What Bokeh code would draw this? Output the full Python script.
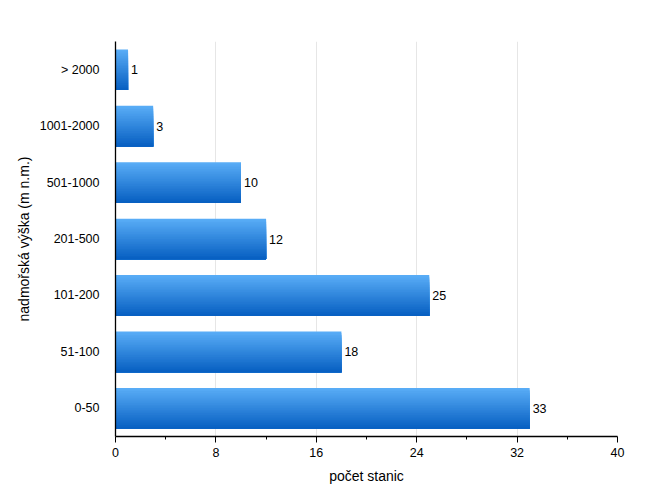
from bokeh.plotting import figure
from bokeh.embed import file_html
from bokeh.resources import INLINE
from bokeh.models import ColumnDataSource, Range1d, FixedTicker, LabelSet
from bokeh.transform import dodge
from bokeh.core.properties import value

categories = ["0-50", "51-100", "101-200", "201-500", "501-1000", "1001-2000", "> 2000"]
counts = [33, 18, 25, 12, 10, 3, 1]
x_ticks = [0, 8, 16, 24, 32, 40]
x_minor = [4, 12, 20, 28, 36]

FONT = "Liberation Sans"
BAR_H = 0.72
N_SLICES = 24
top_rgb = (0x58, 0xAC, 0xF6)
bot_rgb = (0x08, 0x60, 0xC2)

p = figure(width=633, height=486, y_range=categories, x_range=Range1d(0, 40),
           output_backend="svg", toolbar_location=None,
           min_border_left=115, min_border_right=16, min_border_top=41, min_border_bottom=49)
p.y_range.range_padding = 0
p.outline_line_color = None

src = ColumnDataSource(dict(cat=categories, cnt=counts, lbl=[str(c) for c in counts]))

# gradient: slices painted top to bottom, each reaching the bar's bottom edge
sh = BAR_H / N_SLICES
for i in range(N_SLICES):
    t = i / (N_SLICES - 1)  # 0 at top, 1 at bottom
    r, g, b = (int(round(top_rgb[k] + (bot_rgb[k] - top_rgb[k]) * t)) for k in range(3))
    h = BAR_H - i * sh
    off = -BAR_H / 2 + h / 2
    p.hbar(y=dodge("cat", off, range=p.y_range), left=0, right="cnt", height=h,
           source=src, fill_color=(r, g, b), line_color=None)

labels = LabelSet(x="cnt", y="cat", text="lbl", source=src, x_offset=3,
                  text_baseline="middle", text_align="left", text_font_size="12.5px",
                  text_font=value(FONT), text_color="black")
p.add_layout(labels)

p.xaxis.ticker = FixedTicker(ticks=x_ticks, minor_ticks=x_minor)
p.xaxis.axis_label = "počet stanic"
p.yaxis.axis_label = "nadmořská výška (m n.m.)"
for ax in (p.xaxis, p.yaxis):
    ax.axis_label_text_font = FONT
    ax.axis_label_text_font_style = "normal"
    ax.axis_label_text_font_size = "14px"
    ax.axis_label_text_color = "black"
    ax.major_label_text_font = FONT
    ax.major_label_text_font_size = "12.5px"
    ax.major_label_text_color = "black"
    ax.axis_line_color = "black"
    ax.axis_line_width = 1.3
p.xaxis.major_tick_out = 6
p.xaxis.major_tick_in = 0
p.xaxis.minor_tick_out = 3
p.xaxis.minor_tick_in = 0
p.xaxis.major_tick_line_color = "black"
p.xaxis.minor_tick_line_color = "black"
p.xaxis.major_label_standoff = 5
p.xaxis.axis_label_standoff = 8
p.yaxis.major_tick_line_color = None
p.yaxis.minor_tick_line_color = None
p.yaxis.major_label_standoff = 10
p.yaxis.axis_label_standoff = 5

p.xgrid.ticker = FixedTicker(ticks=x_ticks)
p.xgrid.grid_line_color = "#e6e6e6"
p.ygrid.grid_line_color = None

open("out.html", "w").write(file_html(p, INLINE))
